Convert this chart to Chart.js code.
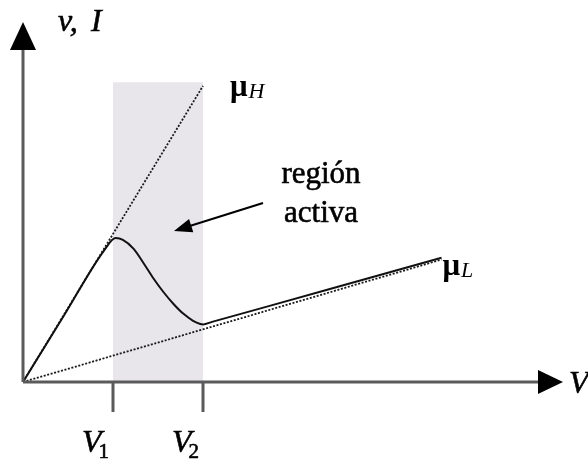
<!DOCTYPE html>
<html>
<head>
<meta charset="utf-8">
<script src="https://cdn.jsdelivr.net/npm/chart.js@4.4.1/dist/chart.umd.min.js"></script>
<style>
  html, body { margin: 0; padding: 0; background: #fff; }
  #wrap { width: 588px; height: 459px; }
</style>
</head>
<body>
<div id="wrap"><canvas id="curva" width="588" height="459"></canvas></div>
<script>
// characteristic curve (v, I versus V), x in units of V1
const curveX = [0, 0.45, 0.9, 1.03, 1.11, 1.23, 1.34, 1.45, 1.56, 1.67, 1.78, 1.89, 1.97, 2.0, 2.1, 3.4, 4.65]
const curveY = [0, 0.73, 1.46, 1.6, 1.58, 1.48, 1.32, 1.15, 1.0, 0.87, 0.76, 0.68, 0.645, 0.64, 0.668, 1.03, 1.38]

// asymptotes muH and muL
const muHX = [0, 2.0]
const muHY = [0, 3.29]
const muLX = [0, 4.65]
const muLY = [0, 1.36]

// active region between V1 and V2
const regionX = [1, 2]
const regionTop = 3.33

const tickValues = [1, 2]
const tickLabels = [['V', '1'], ['V', '2']]

const pts = (xs, ys) => xs.map((x, i) => ({x: x, y: ys[i]}))

const serif = '"Liberation Serif", "Times New Roman", serif'

// text with a thin outline so the serif glyphs look a bit heavier
const texto = (ctx, s, x, y) => {
    ctx.fillText(s, x, y)
    ctx.strokeText(s, x, y)
}

const dibujoEjes = {
    id: 'dibujoEjes',
    afterDatasetsDraw(chart) {
        const ctx = chart.ctx
        const xs = chart.scales.x
        const ys = chart.scales.y
        const x0 = xs.getPixelForValue(0)
        const y0 = ys.getPixelForValue(0)
        const xEnd = xs.getPixelForValue(xs.max)
        const yEnd = ys.getPixelForValue(ys.max)

        ctx.save()
        ctx.strokeStyle = '#5a5a5a'
        ctx.lineWidth = 3
        ctx.lineCap = 'butt'
        ctx.beginPath()
        ctx.moveTo(x0, y0)
        ctx.lineTo(xEnd - 20, y0)
        ctx.moveTo(x0, y0)
        ctx.lineTo(x0, yEnd + 20)
        // V1, V2 ticks
        tickValues.forEach(v => {
            const px = xs.getPixelForValue(v)
            ctx.moveTo(px, y0)
            ctx.lineTo(px, y0 + 30)
        })
        ctx.stroke()

        // arrow heads
        ctx.fillStyle = '#000'
        ctx.beginPath()
        ctx.moveTo(xEnd, y0)
        ctx.lineTo(xEnd - 25, y0 - 12)
        ctx.lineTo(xEnd - 25, y0 + 12)
        ctx.closePath()
        ctx.fill()
        ctx.beginPath()
        ctx.moveTo(x0, yEnd)
        ctx.lineTo(x0 - 13, yEnd + 28)
        ctx.lineTo(x0 + 13, yEnd + 28)
        ctx.closePath()
        ctx.fill()

        ctx.textBaseline = 'alphabetic'
        ctx.textAlign = 'left'
        ctx.strokeStyle = '#000'
        ctx.lineWidth = 0.6

        // axis titles
        ctx.font = 'italic 32px ' + serif
        texto(ctx, 'v,', x0 + 35, yEnd + 9)
        texto(ctx, 'I', x0 + 68, yEnd + 9)
        texto(ctx, 'V', xEnd + 6, y0 + 11)

        // tick labels
        tickValues.forEach((v, i) => {
            const px = xs.getPixelForValue(v)
            ctx.font = 'italic 32px ' + serif
            texto(ctx, tickLabels[i][0], px - 31, y0 + 70)
            const w = ctx.measureText(tickLabels[i][0]).width
            ctx.font = '21px ' + serif
            texto(ctx, tickLabels[i][1], px - 31 + w - 3, y0 + 76)
        })

        // mu labels at the line ends
        const muLabel = (x, y, sub) => {
            ctx.font = 'bold 31px ' + serif
            ctx.fillText('\u03bc', x, y)
            const w = ctx.measureText('\u03bc').width
            ctx.font = 'italic 22px ' + serif
            ctx.fillText(sub, x + w + 1, y + 2)
        }
        muLabel(xs.getPixelForValue(muHX[1]) + 27, ys.getPixelForValue(muHY[1]) + 10, 'H')
        muLabel(xs.getPixelForValue(muLX[1]) + 1, ys.getPixelForValue(muLY[1]) + 15, 'L')

        // region annotation
        ctx.font = '31px ' + serif
        ctx.textAlign = 'center'
        texto(ctx, 'región', 321, 183)
        texto(ctx, 'activa', 321, 222)

        const ax1 = 263, ay1 = 203, ax2 = 174, ay2 = 231
        const ang = Math.atan2(ay2 - ay1, ax2 - ax1)
        ctx.lineWidth = 2
        ctx.beginPath()
        ctx.moveTo(ax1, ay1)
        ctx.lineTo(ax2 - 14 * Math.cos(ang), ay2 - 14 * Math.sin(ang))
        ctx.stroke()
        ctx.beginPath()
        ctx.moveTo(ax2, ay2)
        ctx.lineTo(ax2 - 18 * Math.cos(ang) + 7 * Math.sin(ang), ay2 - 18 * Math.sin(ang) - 7 * Math.cos(ang))
        ctx.lineTo(ax2 - 18 * Math.cos(ang) - 7 * Math.sin(ang), ay2 - 18 * Math.sin(ang) + 7 * Math.cos(ang))
        ctx.closePath()
        ctx.fill()
        ctx.restore()
    }
}

const config = {
    type: 'line',
    data: {
        datasets: [
            {
                label: 'region',
                data: pts(regionX, [regionTop, regionTop]),
                backgroundColor: '#e8e6eb',
                borderWidth: 0,
                pointRadius: 0,
                fill: 'origin',
                order: 10,
            },
            {
                label: 'muH',
                data: pts(muHX, muHY),
                borderColor: '#1a1a1a',
                borderWidth: 1.8,
                borderDash: [2, 1.6],
                pointRadius: 0,
                fill: false,
                order: 3,
            },
            {
                label: 'muL',
                data: pts(muLX, muLY),
                borderColor: '#1a1a1a',
                borderWidth: 1.8,
                borderDash: [2, 1.6],
                pointRadius: 0,
                fill: false,
                order: 2,
            },
            {
                label: 'curva',
                data: pts(curveX, curveY),
                borderColor: '#111',
                borderWidth: 2,
                pointRadius: 0,
                cubicInterpolationMode: 'monotone',
                fill: false,
                order: 1,
            }
        ]
    },
    options: {
        responsive: false,
        animation: false,
        devicePixelRatio: 1,
        layout: {
            padding: {left: 23, top: 22, right: 25, bottom: 77}
        },
        plugins: {
            legend: {display: false},
            tooltip: {enabled: false},
            title: {display: false}
        },
        scales: {
            x: {type: 'linear', min: 0, max: 6, display: false},
            y: {type: 'linear', min: 0, max: 4, display: false}
        }
    },
    plugins: [dibujoEjes]
}

new Chart(document.getElementById('curva'), config)
</script>
</body>
</html>
